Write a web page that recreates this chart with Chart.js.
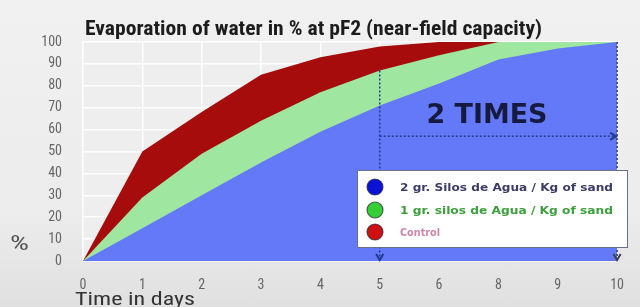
<!DOCTYPE html>
<html><head><meta charset="utf-8">
<script src="https://cdn.jsdelivr.net/npm/chart.js@4"></script>
<style>
html,body{margin:0;padding:0;background:#ebebeb;}
#wrap{width:640px;height:307px;position:relative;background:linear-gradient(180deg,#f1f1f1 0%,#ececec 70%,#e0e0e0 100%);}
canvas{display:block;}
</style></head><body>
<div id="wrap"><canvas id="c" width="640" height="307"></canvas></div>
<script>
const categories = ['0','1','2','3','4','5','6','8','9','10'];
const silos2 = [0,15,30,45,59,71,81,92,97,100];
const silos1 = [0,29,49,64,77,87,94,100,100,100];
const control = [0,50,68,85,93,98,100,100,100,100];
const seriesNames = ['2 gr. Silos de Agua / Kg of sand','1 gr. silos de Agua / Kg of sand','Control'];
const titleText = 'Evaporation of water in % at pF2 (near-field capacity)';
const xTitle = 'Time in days';
const yTitle = '%';
const noteText = '2 TIMES';
const arrowFrom = '5', arrowTo = '10', arrowLevel = 57, arrowTop = 87;

const NARROW = '"Liberation Sans Narrow","Arial Narrow","Roboto Condensed","Liberation Sans",sans-serif';

function fitText(ctx, text, x, y, w, font, color, align){
  ctx.save();
  ctx.font = font;
  ctx.fillStyle = color;
  ctx.textBaseline = 'alphabetic';
  ctx.textAlign = 'left';
  const m = ctx.measureText(text).width;
  const s = w / m;
  let x0 = x;
  if (align === 'center') x0 = x - w/2;
  ctx.translate(x0, y);
  ctx.scale(s, 1);
  ctx.fillText(text, 0, 0);
  ctx.restore();
}

function arrowHead(ctx, x, y, dir, size){
  ctx.beginPath();
  if (dir === 'down'){
    ctx.moveTo(x - size*0.6, y - size); ctx.lineTo(x, y); ctx.lineTo(x + size*0.6, y - size);
  } else {
    ctx.moveTo(x - size, y - size*0.6); ctx.lineTo(x, y); ctx.lineTo(x - size, y + size*0.6);
  }
  ctx.stroke();
}

const decor = {
  id: 'decor',
  beforeDraw(chart){
    const {ctx, chartArea:a} = chart;
    ctx.save();
    ctx.fillStyle = '#eeeeee';
    ctx.fillRect(a.left, a.top, a.right - a.left, a.bottom - a.top);
    ctx.restore();
  },
  afterDraw(chart){
    const {ctx, chartArea:a} = chart;
    const xs = chart.scales.x, ys = chart.scales.y;
    // title
    fitText(ctx, titleText, 85, 35, 457, 'bold 20px ' + NARROW, '#1c1c1c');
    // y title
    fitText(ctx, yTitle, 10, 250, 19, '20px ' + NARROW, '#555555');
    // x title
    fitText(ctx, xTitle, 75, 305, 120, '19px ' + NARROW, '#333333');

    // dotted arrows
    const x5 = xs.getPixelForValue(categories.indexOf(arrowFrom));
    const x10 = xs.getPixelForValue(categories.indexOf(arrowTo));
    const yLvl = ys.getPixelForValue(arrowLevel);
    const yTop = ys.getPixelForValue(arrowTop);
    const y0 = ys.getPixelForValue(0);
    const y100 = ys.getPixelForValue(100);
    ctx.save();
    ctx.lineWidth = 1.5;
    ctx.strokeStyle = '#23388f';
    ctx.setLineDash([2,2]);
    ctx.beginPath(); ctx.moveTo(x5, yTop); ctx.lineTo(x5, y0 - 2); ctx.stroke();
    ctx.beginPath(); ctx.moveTo(x5, yLvl); ctx.lineTo(x10 - 2, yLvl); ctx.stroke();
    ctx.strokeStyle = '#3a3f55';
    ctx.beginPath(); ctx.moveTo(x10, y100); ctx.lineTo(x10, y0 - 2); ctx.stroke();
    ctx.setLineDash([]);
    ctx.strokeStyle = '#23388f';
    ctx.lineWidth = 2;
    arrowHead(ctx, x5, y0 - 1, 'down', 6);
    arrowHead(ctx, x10 - 1, yLvl, 'right', 6);
    ctx.strokeStyle = '#3a3f55';
    arrowHead(ctx, x10, y0 - 1, 'down', 6);
    ctx.restore();

    // 2 TIMES
    fitText(ctx, noteText, 487, 123, 121, 'bold 27px "DejaVu Sans",sans-serif', '#151a3e', 'center');

    // legend box
    ctx.save();
    ctx.fillStyle = '#ffffff';
    ctx.fillRect(357, 170, 270, 77);
    ctx.strokeStyle = '#6b6f85';
    ctx.lineWidth = 1;
    ctx.strokeRect(357.5, 170.5, 270, 77);
    const dots = ['#0a12d6', '#35cf35', '#cf1010'];
    const txtCol = ['#3b3d66', '#3c9e3c', '#cf86a6'];
    const ys3 = [187, 210, 232];
    for (let i = 0; i < 3; i++){
      ctx.beginPath();
      ctx.arc(375, ys3[i], 8, 0, Math.PI*2);
      ctx.fillStyle = dots[i];
      ctx.fill();
      ctx.lineWidth = 1.2;
      ctx.strokeStyle = 'rgba(40,40,60,0.7)';
      ctx.stroke();
      const w = i < 2 ? 213 : 40;
      fitText(ctx, seriesNames[i], 400, ys3[i] + 4, w, 'bold 10px "DejaVu Sans",sans-serif', txtCol[i]);
    }
    ctx.restore();
  }
};

new Chart(document.getElementById('c'), {
  type: 'line',
  data: {
    labels: categories,
    datasets: [
      {label: seriesNames[0], data: silos2, fill: 'origin', backgroundColor: '#6479f7', borderWidth: 0, pointRadius: 0, tension: 0},
      {label: seriesNames[1], data: silos1, fill: 'origin', backgroundColor: '#9fe6a1', borderWidth: 0, pointRadius: 0, tension: 0},
      {label: seriesNames[2], data: control, fill: 'origin', backgroundColor: '#a60c0c', borderWidth: 0, pointRadius: 0, tension: 0}
    ]
  },
  options: {
    responsive: false,
    animation: false,
    events: [],
    layout: {padding: {top: 42, right: 15, left: 0, bottom: 0}},
    plugins: {legend: {display: false}, title: {display: false}, tooltip: {enabled: false}},
    scales: {
      x: {
        type: 'category', offset: false,
        grid: {color: 'rgba(255,255,255,0.9)', lineWidth: 1.5, drawTicks: false},
        border: {display: false},
        ticks: {color: '#666666', font: {size: 14, family: NARROW}, padding: 16, maxRotation: 0, autoSkip: false},
        afterFit(s){ s.height = 46; }
      },
      y: {
        min: 0, max: 100,
        grid: {color: 'rgba(255,255,255,0.9)', lineWidth: 1.5, drawTicks: false},
        border: {display: false},
        ticks: {stepSize: 10, color: '#666666', font: {size: 14, family: NARROW}, padding: 21},
        afterFit(s){ s.width = 83; }
      }
    }
  },
  plugins: [decor]
});
</script>
</body></html>
